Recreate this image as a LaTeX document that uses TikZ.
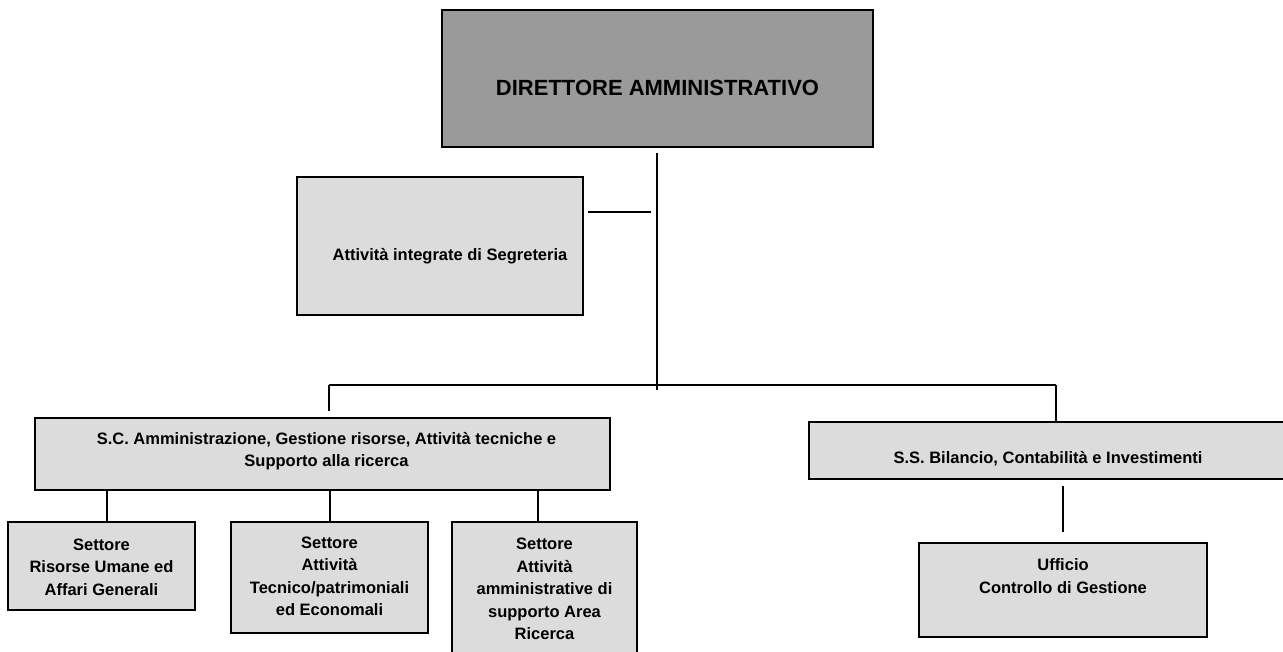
\documentclass[tikz,border=0pt]{standalone}
\usepackage{fontspec}
\setmainfont{Liberation Sans}
\definecolor{darkfill}{HTML}{9A9A9A}
\definecolor{lightfill}{HTML}{DCDCDC}
\tikzset{
  box/.style={draw=black, line width=2pt, fill=lightfill, inner sep=0pt},
  topbox/.style={box, fill=darkfill},
  txt/.style={font=\bfseries\fontsize{16.5}{22.5}\selectfont, align=center, inner sep=0pt},
  bigtxt/.style={font=\bfseries\fontsize{22}{26}\selectfont, align=center, inner sep=0pt},
  conn/.style={draw=black, line width=2pt},
}
\begin{document}
\begin{tikzpicture}[x=1pt,y=-1pt]
\useasboundingbox (0,0) rectangle (1283,651);
% boxes
\node[topbox, minimum width=431pt, minimum height=137pt] (dir) at (657.5,78.5) {};
\node[bigtxt] (dirt) at (657.5,88) {DIRETTORE AMMINISTRATIVO};
\node[box, minimum width=286pt, minimum height=138pt] (seg) at (440,246) {};
\node[txt] (segt) at (450,256) {Attività integrate di Segreteria};
\node[box, minimum width=575pt, minimum height=72pt] (sc) at (322.5,454) {};
\node[txt] (sct) at (326.5,451) {S.C. Amministrazione, Gestione risorse, Attività tecniche e\\Supporto alla ricerca};
\node[box, minimum width=491pt, minimum height=57pt] (ss) at (1054.5,450.5) {};
\node[txt] (sst) at (1048,459) {S.S. Bilancio, Contabilità e Investimenti};
\node[box, minimum width=187pt, minimum height=88pt] (s1) at (101.5,566) {};
\node[txt] (s1t) at (101.5,567) {Settore\\Risorse Umane ed\\Affari Generali};
\node[box, minimum width=197pt, minimum height=111pt] (s2) at (329.5,577.5) {};
\node[txt] (s2t) at (329.5,576.5) {Settore\\Attività\\Tecnico/patrimoniali\\ed Economali};
\node[box, minimum width=185pt, minimum height=143pt] (s3) at (544.5,593.5) {};
\node[txt] (s3t) at (544.5,589) {Settore\\Attività\\amministrative di\\supporto Area\\Ricerca};
\node[box, minimum width=288pt, minimum height=94pt] (uff) at (1063,590) {};
\node[txt] (ufft) at (1063,576) {Ufficio\\Controllo di Gestione};
% connectors
\coordinate (busL) at (329,385);
\coordinate (busR) at (1056,385);
\coordinate (trunk) at (657,390);
\draw[conn, shorten <=5pt] (dir.south -| trunk) -- (trunk);
\draw[conn, shorten <=4pt, shorten >=6pt] ([yshift=34pt]seg.east) -- ([yshift=34pt]seg.east -| trunk);
\draw[conn] (busL) -- (busR);
\draw[conn, shorten >=6pt] (busL) -- (busL |- sc.north);
\draw[conn] (busR) -- (busR |- ss.north);
\draw[conn] ([xshift=5.5pt]s1.north) -- ([xshift=5.5pt]s1.north |- sc.south);
\draw[conn] ([xshift=0.5pt]s2.north) -- ([xshift=0.5pt]s2.north |- sc.south);
\draw[conn] ([xshift=-6.5pt]s3.north) -- ([xshift=-6.5pt]s3.north |- sc.south);
\draw[conn, shorten <=6pt, shorten >=10pt] (ss.south -| uff.north) -- (uff.north);
\end{tikzpicture}
\end{document}
